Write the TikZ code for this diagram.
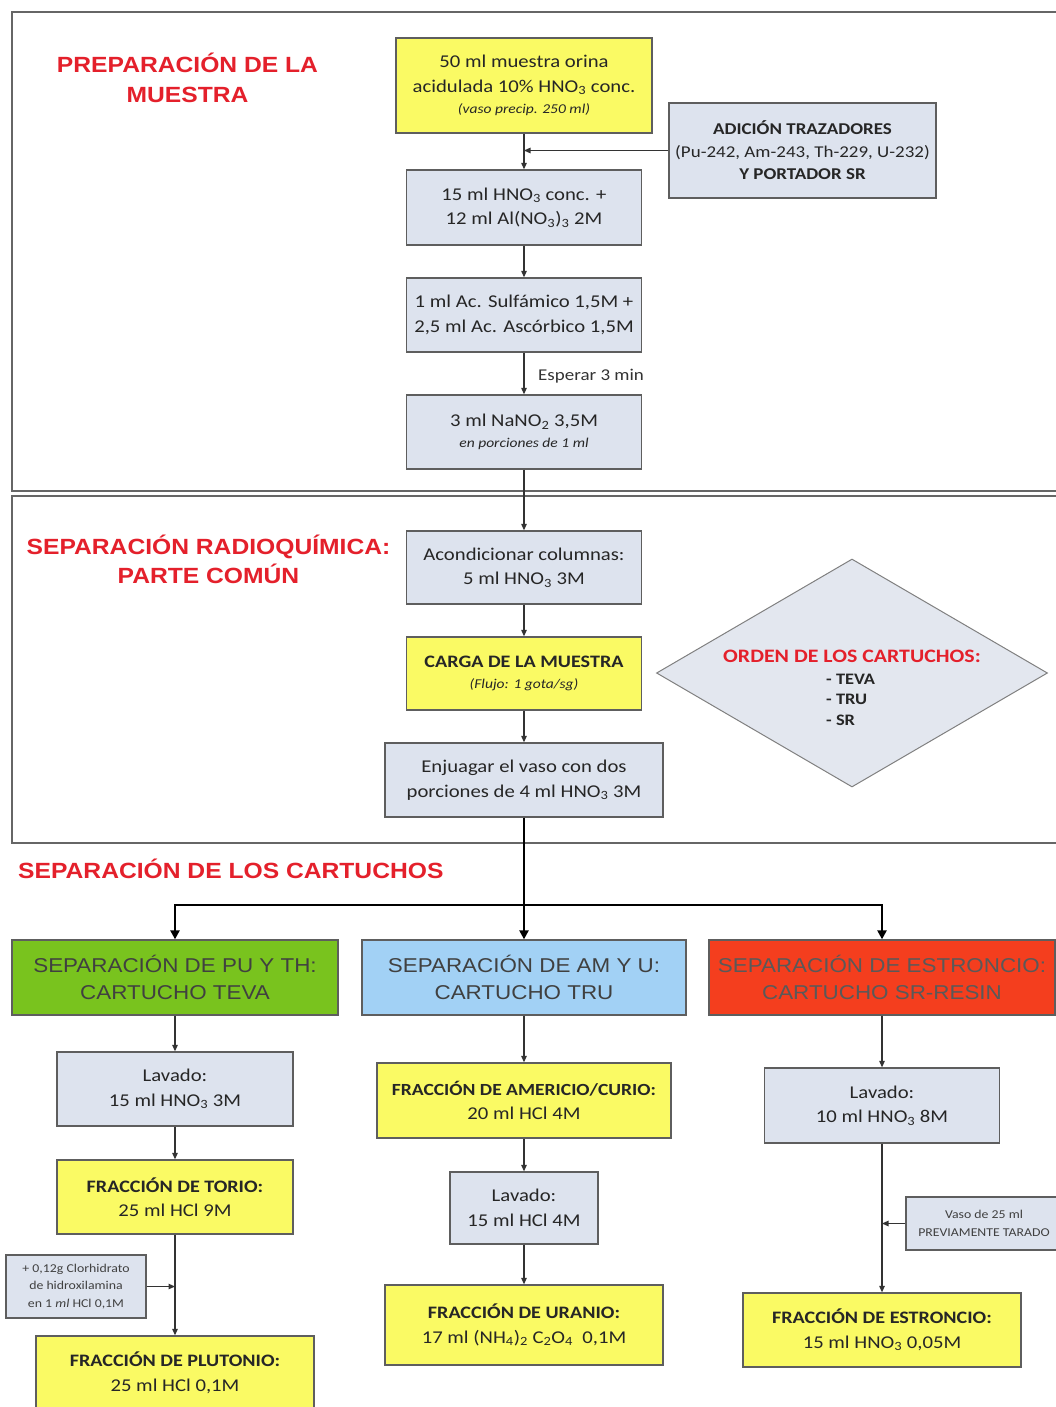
\documentclass[tikz,border=0pt]{standalone}
\usepackage{fontspec}
\setmainfont{Carlito}[FakeStretch=1.15]
\newfontfamily\hdr{Liberation Sans}[FakeStretch=1.12]
\usetikzlibrary{arrows.meta,shapes.geometric}
\definecolor{boxgrey}{HTML}{DDE3EE}
\definecolor{diagrey}{HTML}{E3E7EF}
\definecolor{boxyellow}{HTML}{FAFA64}
\definecolor{titlered}{HTML}{E4202B}
\definecolor{tevagreen}{HTML}{79C31E}
\definecolor{trublue}{HTML}{A2D1F5}
\definecolor{srred}{HTML}{F43E1E}
\definecolor{edgegrey}{HTML}{5E5E5E}
\newcommand\sbs[1]{\textsubscript{#1}}
\newcommand\smit{\fontsize{13.5}{16}\selectfont\itshape}
\begin{document}
\begin{tikzpicture}[x=1pt,y=-1pt,
  box/.style={draw=edgegrey, line width=1.3pt, align=center, inner sep=2pt,
    text=black!85, font=\fontsize{18}{24.5}\selectfont},
  gbox/.style={box, fill=boxgrey},
  ybox/.style={box, fill=boxyellow},
  cartbox/.style={draw=edgegrey, line width=1.3pt, align=center, text=black!75,
    font=\hdr\fontsize{20}{27}\selectfont, minimum height=75pt},
  sectitle/.style={text=titlered, align=center, font=\hdr\bfseries\fontsize{22}{30}\selectfont},
  frame/.style={draw=black!60, line width=1.8pt},
  arr/.style={draw=black!80, line width=1.1pt, -{Triangle[length=6.5pt,width=5.5pt]}},
  trunk/.style={draw=black, line width=2.4pt},
  branch/.style={draw=black, line width=2.4pt, -{Triangle[length=9pt,width=9pt]}},
  note/.style={text=black!80, font=\fontsize{16.5}{20}\selectfont}
]
\useasboundingbox[fill=white] (0,0) rectangle (1056,1407);
\draw[frame] (12,12) rectangle (1070,491);
\draw[frame] (12,496) rectangle (1070,843);

% titles
\node[sectitle] (t1) at (187.5,78) {PREPARACIÓN DE LA\\MUESTRA};
\node[sectitle, font=\hdr\bfseries\fontsize{22}{29}\selectfont] (t2) at (208.5,559.5) {SEPARACIÓN RADIOQUÍMICA:\\PARTE COMÚN};
\node[sectitle, anchor=west, inner sep=0pt] (t3) at (18,869) {SEPARACIÓN DE LOS CARTUCHOS};

% section 1
\node[ybox, minimum width=256pt, minimum height=95pt] (n1) at (524,85.5)
  {50 ml muestra orina\\acidulada 10\% HNO\sbs{3} conc.\\[-3pt]{\smit (vaso precip. 250 ml)}};
\node[gbox, minimum width=267pt, minimum height=95pt, font=\fontsize{16.5}{22.5}\selectfont] (add) at (802.5,150.5)
  {\textbf{ADICIÓN TRAZADORES}\\(Pu-242, Am-243, Th-229, U-232)\\\textbf{Y PORTADOR SR}};
\node[gbox, minimum width=235pt, minimum height=75pt] (n2) at (524,207.5)
  {15 ml HNO\sbs{3} conc. +\\12 ml Al(NO\sbs{3})\sbs{3} 2M};
\node[gbox, minimum width=235pt, minimum height=74pt] (n3) at (524,315)
  {1 ml Ac. Sulfámico 1,5M +\\2,5 ml Ac. Ascórbico 1,5M};
\node[gbox, minimum width=235pt, minimum height=74pt] (n4) at (524,432)
  {3 ml NaNO\sbs{2} 3,5M\\[-3pt]{\smit en porciones de 1 ml}};
\node[note, anchor=west, inner sep=0pt] (wait) at (538,376) {Esperar 3 min};

% section 2
\node[gbox, minimum width=235pt, minimum height=73pt] (n5) at (524,567.5)
  {Acondicionar columnas:\\5 ml HNO\sbs{3} 3M};
\node[ybox, minimum width=235pt, minimum height=73pt] (n6) at (524,673.5)
  {\textbf{\fontsize{17.5}{24}\selectfont CARGA DE LA MUESTRA}\\[-3pt]{\smit (Flujo: 1 gota/sg)}};
\node[gbox, minimum width=278pt, minimum height=74pt] (n7) at (524,780)
  {Enjuagar el vaso con dos\\porciones de 4 ml HNO\sbs{3} 3M};
\node[diamond, draw=black!50, fill=diagrey, line width=1pt, minimum width=391pt, minimum height=228pt, inner sep=0pt] (orden) at (852,673) {};
\node[text=titlered, font=\bfseries\fontsize{19}{22}\selectfont, inner sep=0pt] (ordt) at (852,656) {ORDEN DE LOS CARTUCHOS:};
\node[anchor=west, align=left, text=black!85, font=\bfseries\fontsize{16}{20.5}\selectfont, inner sep=0pt] (ordl) at (826,699.5) {- TEVA\\- TRU\\- SR};

% cartridges
\coordinate (split) at (524,905);
\node[cartbox, fill=tevagreen, minimum width=326pt] (teva) at (175,977.5) {SEPARACIÓN DE PU Y TH:\\CARTUCHO TEVA};
\node[cartbox, fill=trublue, minimum width=324pt] (tru) at (524,977.5) {SEPARACIÓN DE AM Y U:\\CARTUCHO TRU};
\node[cartbox, fill=srred, minimum width=346pt, text=black!65] (sr) at (882,977.5) {SEPARACIÓN DE ESTRONCIO:\\CARTUCHO SR-RESIN};

% column 1
\node[gbox, minimum width=236pt, minimum height=74pt] (lav1) at (175,1089) {Lavado:\\15 ml HNO\sbs{3} 3M};
\node[ybox, minimum width=236pt, minimum height=74pt] (torio) at (175,1197) {\textbf{\fontsize{17.5}{24}\selectfont FRACCIÓN DE TORIO:}\\25 ml HCl 9M};
\node[gbox, minimum width=140pt, minimum height=63pt, font=\fontsize{12}{17.5}\selectfont, text=black!75] (side1) at (76,1286.5) {+ 0,12g Clorhidrato\\de hidroxilamina\\en 1 {\itshape ml} HCl 0,1M};
\node[ybox, minimum width=278pt, minimum height=74pt] (pluto) at (175,1373) {\textbf{\fontsize{17.5}{24}\selectfont FRACCIÓN DE PLUTONIO:}\\25 ml HCl 0,1M};

% column 2
\node[ybox, minimum width=294pt, minimum height=75pt] (amer) at (524,1100.5) {\textbf{\fontsize{17}{24}\selectfont FRACCIÓN DE AMERICIO/CURIO:}\\20 ml HCl 4M};
\node[gbox, minimum width=148pt, minimum height=72pt] (lav2) at (524,1208) {Lavado:\\15 ml HCl 4M};
\node[ybox, minimum width=278pt, minimum height=80pt] (uran) at (524,1325) {\textbf{\fontsize{17.5}{24}\selectfont FRACCIÓN DE URANIO:}\\17 ml (NH\sbs{4})\sbs{2} C\sbs{2}O\sbs{4}\ \ 0,1M};

% column 3
\node[gbox, minimum width=235pt, minimum height=75pt] (lav3) at (882,1105.5) {Lavado:\\10 ml HNO\sbs{3} 8M};
\node[gbox, minimum width=156pt, minimum height=53pt, font=\fontsize{12}{18}\selectfont, text=black!75] (side3) at (984,1223.5) {Vaso de 25 ml\\PREVIAMENTE TARADO};
\node[ybox, minimum width=278pt, minimum height=74pt] (estr) at (882,1330) {\textbf{\fontsize{17.5}{24}\selectfont FRACCIÓN DE ESTRONCIO:}\\15 ml HNO\sbs{3} 0,05M};

% connectors
\draw[arr] (n1) -- (n2);
\draw[arr] (add.west) -- (add.west -| n1.south);
\draw[arr] (n2) -- (n3);
\draw[arr] (n3) -- (n4);
\draw[arr] (n4) -- (n5);
\draw[arr] (n5) -- (n6);
\draw[arr] (n6) -- (n7);
\draw[trunk] (n7.south) -- (split);
\draw[branch] (split) -| (teva.north);
\draw[branch] (split) -- (tru.north);
\draw[branch] (split) -| (sr.north);

\draw[arr] (teva) -- (lav1);
\draw[arr] (lav1) -- (torio);
\draw[arr] (torio) -- (pluto);
\draw[arr] (side1.east) -- (side1.east -| torio.south);

\draw[arr] (tru) -- (amer);
\draw[arr] (amer) -- (lav2);
\draw[arr] (lav2) -- (uran);

\draw[arr] (sr.south -| lav3.north) -- (lav3);
\draw[arr] (lav3) -- (estr);
\draw[arr] (side3.west) -- (side3.west -| lav3.south);
\end{tikzpicture}
\end{document}
